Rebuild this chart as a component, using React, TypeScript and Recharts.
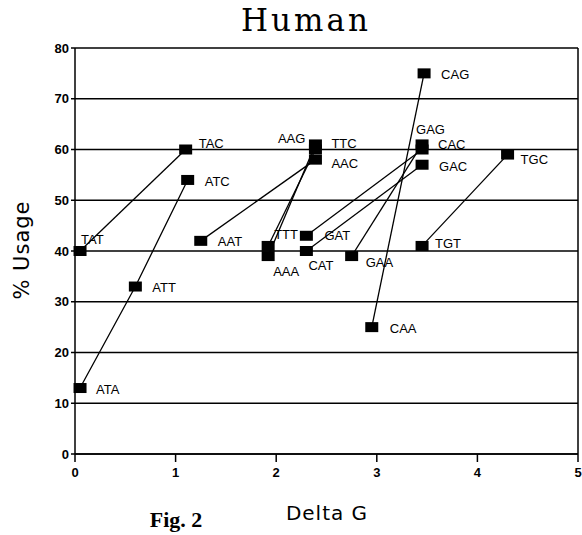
import {
  ScatterChart,
  Scatter,
  XAxis,
  YAxis,
  CartesianGrid,
  ReferenceLine,
} from "recharts";

type Codon = { codon: string; dg: number; usage: number };

// each array is one connected line in the figure
const tyr: Codon[] = [
  { codon: "TAT", dg: 0.05, usage: 40 },
  { codon: "TAC", dg: 1.1, usage: 60 },
];
const ile: Codon[] = [
  { codon: "ATA", dg: 0.05, usage: 13 },
  { codon: "ATT", dg: 0.6, usage: 33 },
  { codon: "ATC", dg: 1.12, usage: 54 },
];
const asn: Codon[] = [
  { codon: "AAT", dg: 1.25, usage: 42 },
  { codon: "AAC", dg: 2.39, usage: 58 },
];
const lys: Codon[] = [
  { codon: "AAA", dg: 1.92, usage: 39 },
  { codon: "AAG", dg: 2.39, usage: 61 },
];
const phe: Codon[] = [
  { codon: "TTT", dg: 1.92, usage: 41 },
  { codon: "TTC", dg: 2.39, usage: 60 },
];
const gatCac: Codon[] = [
  { codon: "GAT", dg: 2.3, usage: 43 },
  { codon: "CAC", dg: 3.45, usage: 60 },
];
const catGac: Codon[] = [
  { codon: "CAT", dg: 2.3, usage: 40 },
  { codon: "GAC", dg: 3.45, usage: 57 },
];
const gaaGag: Codon[] = [
  { codon: "GAA", dg: 2.75, usage: 39 },
  { codon: "GAG", dg: 3.45, usage: 61 },
];
const gln: Codon[] = [
  { codon: "CAA", dg: 2.95, usage: 25 },
  { codon: "CAG", dg: 3.47, usage: 75 },
];
const cys: Codon[] = [
  { codon: "TGT", dg: 3.45, usage: 41 },
  { codon: "TGC", dg: 4.3, usage: 59 },
];

const groups = [tyr, ile, asn, lys, phe, gatCac, catGac, gaaGag, gln, cys];

const xTicks = [0, 1, 2, 3, 4, 5];
const yTicks = [0, 10, 20, 30, 40, 50, 60, 70, 80];

// label placement relative to the marker centre
const labelPos: Record<string, [number, number, string?]> = {
  TAT: [1, -12],
  TAC: [13, -6],
  ATC: [17, 1],
  ATT: [17, 1],
  ATA: [16, 1],
  AAT: [17, 1],
  TTT: [6, -11],
  AAA: [5, 15],
  AAG: [-10, -6, "end"],
  TTC: [16, -6],
  AAC: [16, 4],
  GAT: [18, 0],
  CAT: [2, 14],
  GAA: [14, 6],
  CAA: [18, 1],
  CAG: [17, 1],
  GAG: [-6, -15],
  CAC: [16, -5],
  GAC: [17, 2],
  TGC: [13, 5],
  TGT: [13, -2],
};

const Marker = (props: any) => {
  const { cx, cy, payload } = props;
  const pos = labelPos[payload.codon] || [15, 0];
  return (
    <g>
      <rect x={cx - 6.5} y={cy - 5} width={13} height={10} fill="#000" />
      <text
        x={cx + pos[0]}
        y={cy + pos[1]}
        dy="0.35em"
        textAnchor={pos[2] || "start"}
        fontSize={13}
        fontFamily="Liberation Sans, Arial, sans-serif"
        fill="#000"
      >
        {payload.codon}
      </text>
    </g>
  );
};

const tickStyle = {
  fontSize: 13,
  fontWeight: "bold" as const,
  fill: "#000",
  fontFamily: "Liberation Sans, Arial, sans-serif",
};

export default function App() {
  return (
    <div style={{ position: "absolute", left: 0, top: 0, width: 582, height: 535, background: "#fff" }}>
      <svg width={582} height={535} style={{ position: "absolute", left: 0, top: 0 }}>
        <text x={306} y={31} textAnchor="middle" fontSize={31} letterSpacing={3} fontFamily="DejaVu Serif, serif" fill="#000">
          Human
        </text>
        <text
          transform="translate(29,250) rotate(-90)"
          textAnchor="middle"
          fontSize={21}
          letterSpacing={1}
          fontFamily="DejaVu Sans, sans-serif"
          fill="#000"
        >
          % Usage
        </text>
        <text x={327} y={520} textAnchor="middle" fontSize={20} letterSpacing={1} fontFamily="DejaVu Sans, sans-serif" fill="#000">
          Delta G
        </text>
        <text x={176} y={527} textAnchor="middle" fontSize={22} fontWeight="bold" fontFamily="Liberation Serif, serif" fill="#000">
          Fig. 2
        </text>
      </svg>
      <div style={{ position: "absolute", left: 0, top: 0 }}>
        <ScatterChart width={582} height={535} margin={{ top: 48, right: 4, bottom: 0, left: 0 }}>
          <CartesianGrid vertical={false} stroke="#000" strokeWidth={1.5} />
          <XAxis
            type="number"
            dataKey="dg"
            domain={[0, 5]}
            ticks={xTicks}
            tickSize={8}
            tickMargin={6}
            stroke="#000"
            strokeWidth={1.5}
            tick={tickStyle}
            height={81}
          />
          <YAxis
            type="number"
            dataKey="usage"
            domain={[0, 80]}
            ticks={yTicks}
            tickSize={4}
            stroke="#000"
            strokeWidth={1.5}
            tick={tickStyle}
            width={75}
          />
          <ReferenceLine x={5} stroke="#000" strokeWidth={1.5} />
          {groups.map((g, i) => (
            <Scatter
              key={i}
              data={g}
              fill="#000"
              line={{ stroke: "#000", strokeWidth: 1.3 }}
              lineType="joint"
              shape={Marker}
              isAnimationActive={false}
            />
          ))}
        </ScatterChart>
      </div>
    </div>
  );
}
